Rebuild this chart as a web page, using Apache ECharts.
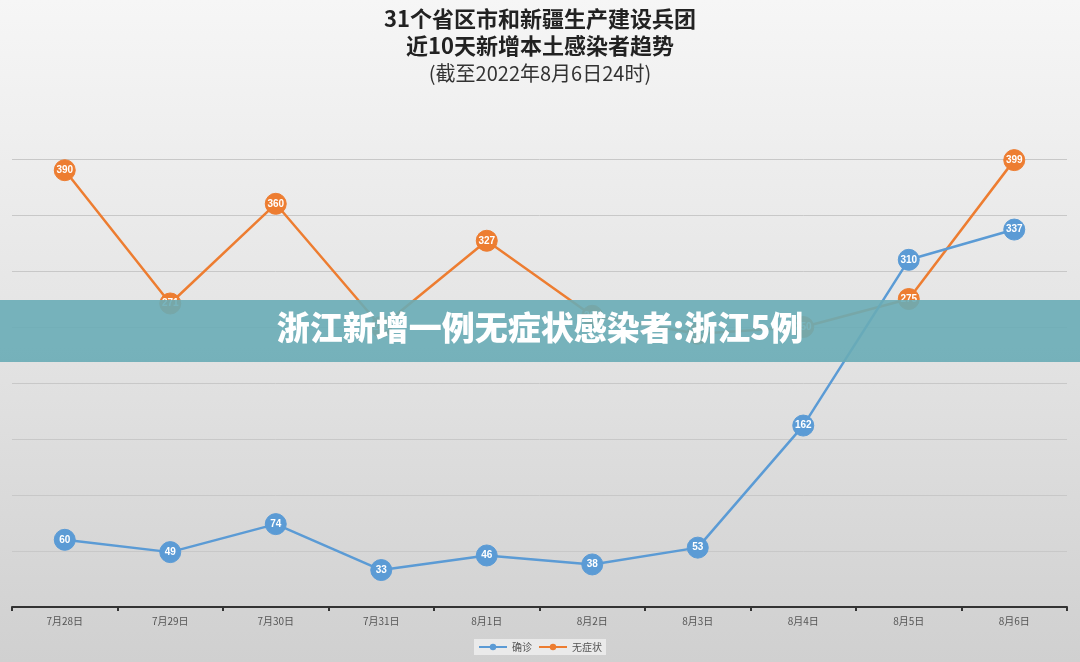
<!DOCTYPE html>
<html>
<head>
<meta charset="utf-8">
<script src="https://cdn.jsdelivr.net/npm/echarts@6/dist/echarts.min.js"></script>
<style>
html,body{margin:0;padding:0;background:#e6e6e6;}
#chart{width:1080px;height:662px;}
</style>
</head>
<body>
<div id="chart"></div>
<script>
const categories = ['7月28日','7月29日','7月30日','7月31日','8月1日','8月2日','8月3日','8月4日','8月5日','8月6日'];
const confirmed = [60, 49, 74, 33, 46, 38, 53, 162, 310, 337];
const asymptomatic = [390, 271, 360, 250, 327, 260, 244, 250, 275, 399];
const seriesNames = ['确诊', '无症状'];
const titleLines = ['31个省区市和新疆生产建设兵团', '近10天新增本土感染者趋势', '(截至2022年8月6日24时)'];
const bannerText = '浙江新增一例无症状感染者:浙江5例';

const chart = echarts.init(document.getElementById('chart'));
const FONT = '"Noto Sans CJK SC", "Liberation Sans", sans-serif';
const blue = '#5b9bd5', orange = '#ed7d31';

function mkSeries(name, data, color, z) {
  return {
    name: name, type: 'line', data: data, z: z,
    symbol: 'circle', symbolSize: 21,
    lineStyle: {color: color, width: 2.5},
    itemStyle: {color: color, borderColor: color},
    label: {show: true, position: 'inside', color: '#fff', fontSize: 10, fontWeight: 'bold', fontFamily: '"Liberation Sans", sans-serif'},
    emphasis: {disabled: true}
  };
}

chart.setOption({
  backgroundColor: {
    type: 'linear', x: 0, y: 0, x2: 0, y2: 1,
    colorStops: [{offset: 0, color: '#f6f6f6'}, {offset: 0.5, color: '#e4e4e4'}, {offset: 1, color: '#d0d0d0'}]
  },
  animation: false,
  textStyle: {fontFamily: FONT},
  title: {
    text: titleLines[0] + '\n' + titleLines[1],
    subtext: titleLines[2],
    left: 'center', top: 0, itemGap: 0,
    textStyle: {fontSize: 22, fontWeight: 'bold', color: '#222', lineHeight: 27, fontFamily: FONT},
    subtextStyle: {fontSize: 20, color: '#333', lineHeight: 28, fontFamily: FONT}
  },
  legend: {
    bottom: 7, left: 'center',
    data: seriesNames,
    itemWidth: 28, itemHeight: 8, itemGap: 6,
    backgroundColor: 'rgba(240,240,240,0.8)', padding: [3, 4],
    textStyle: {fontSize: 10, color: '#555', fontFamily: FONT}
  },
  grid: {left: 12, right: 13, top: 159, bottom: 55, containLabel: false},
  xAxis: {
    type: 'category', data: categories, boundaryGap: true,
    axisLine: {lineStyle: {color: '#333', width: 2}},
    axisTick: {show: true, length: 4, lineStyle: {color: '#333', width: 2}},
    axisLabel: {fontSize: 10, color: '#555', margin: 9, fontFamily: FONT}
  },
  yAxis: {
    type: 'value', min: 0, max: 400, interval: 50,
    axisLabel: {show: false}, axisLine: {show: false}, axisTick: {show: false},
    splitLine: {lineStyle: {color: '#c8c8c8', width: 1}}
  },
  series: [
    mkSeries(seriesNames[0], confirmed, blue, 3),
    mkSeries(seriesNames[1], asymptomatic, orange, 2)
  ],
  graphic: [
    {type: 'rect', left: 0, top: 300, z: 100, shape: {width: 1080, height: 62}, style: {fill: 'rgba(105,172,182,0.9)'}},
    {type: 'text', left: 'center', top: 311, z: 101, style: {text: bannerText, fill: '#fff', font: '900 33px "Noto Sans CJK SC", sans-serif'}}
  ]
});
</script>
</body>
</html>
